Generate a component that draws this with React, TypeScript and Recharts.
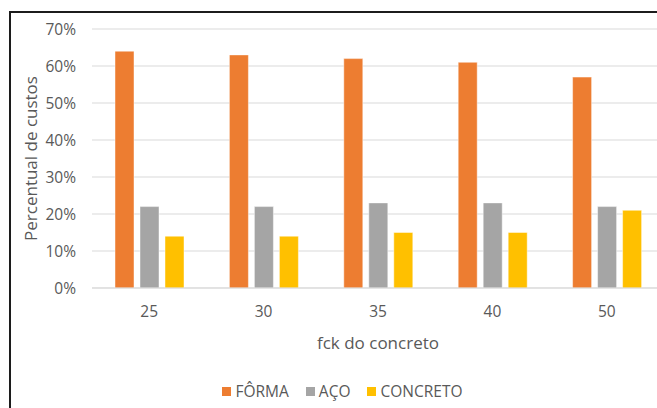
import React from "react";
import { BarChart, Bar, XAxis, YAxis, CartesianGrid, Legend } from "recharts";

const categories = ["25", "30", "35", "40", "50"];
const forma = [64, 63, 62, 61, 57];
const aco = [22, 22, 23, 23, 22];
const concreto = [14, 14, 15, 15, 21];
const yTicks = [0, 10, 20, 30, 40, 50, 60, 70];

const series = [
    { key: "forma", name: "FÔRMA", color: "#ED7D31" },
    { key: "aco", name: "AÇO", color: "#A5A5A5" },
    { key: "concreto", name: "CONCRETO", color: "#FFC000" },
];

const data = categories.map((fck, i) => ({
    fck,
    forma: forma[i],
    aco: aco[i],
    concreto: concreto[i],
}));

const FONT = "'Open Sans', sans-serif";
const TEXT = "#595959";

// legend keeps the series order (recharts sorts payload by name otherwise)
function LegendBox() {
    return (
        <div style={{ height: 20, display: "flex", justifyContent: "center", alignItems: "center", fontFamily: FONT, fontSize: 15.5, color: TEXT }}>
            {series.map((s, i) => (
                <div key={s.key} style={{ display: "flex", alignItems: "center", marginLeft: i ? 17 : 0 }}>
                    <span style={{ width: 9, height: 9, background: s.color, marginRight: 4, display: "inline-block" }} />
                    <span>{s.name}</span>
                </div>
            ))}
        </div>
    );
}

export default function App() {
    return (
        <div style={{ position: "absolute", left: 0, top: 0, width: 657, height: 408, overflow: "hidden", background: "#fff" }}>
            <div style={{ position: "absolute", left: 9, top: 11, border: "2px solid #1c1c1c", background: "#fff" }}>
                <BarChart width={662} height={395} data={data} margin={{ top: 16, right: 9, left: 10, bottom: 7 }} barSize={19} barGap={6}>
                    <CartesianGrid horizontal vertical={false} stroke="#D9D9D9" />
                    <XAxis
                        dataKey="fck"
                        height={93}
                        axisLine={{ stroke: "#D9D9D9" }}
                        tickLine={false}
                        tickSize={0}
                        tickMargin={18}
                        tick={{ fill: TEXT, fontSize: 15.5, fontFamily: FONT }}
                        label={{
                            content: (p: any) => {
                                const vb = p.viewBox;
                                return (
                                    <text x={vb.x + vb.width / 2} y={vb.y + 54} textAnchor="middle" dominantBaseline="central" fill={TEXT} fontSize={17} fontFamily={FONT}>
                                        fck do concreto
                                    </text>
                                );
                            },
                        }}
                    />
                    <YAxis
                        width={71}
                        domain={[0, 70]}
                        ticks={yTicks}
                        axisLine={false}
                        tickLine={false}
                        tickSize={0}
                        tickMargin={16}
                        tickFormatter={(v) => `${v}%`}
                        tick={{ fill: TEXT, fontSize: 15.5, fontFamily: FONT }}
                        label={{
                            content: (p: any) => {
                                const vb = p.viewBox;
                                const cy = vb.y + vb.height / 2;
                                return (
                                    <text x={19} y={cy} transform={`rotate(-90 19 ${cy})`} textAnchor="middle" dominantBaseline="central" fill={TEXT} fontSize={17} fontFamily={FONT}>
                                        Percentual de custos
                                    </text>
                                );
                            },
                        }}
                    />
                    <Legend verticalAlign="bottom" content={LegendBox} />
                    {series.map((s) => (
                        <Bar key={s.key} dataKey={s.key} name={s.name} fill={s.color} stroke="#ffffff" strokeOpacity={0.45} isAnimationActive={false} />
                    ))}
                </BarChart>
            </div>
        </div>
    );
}
